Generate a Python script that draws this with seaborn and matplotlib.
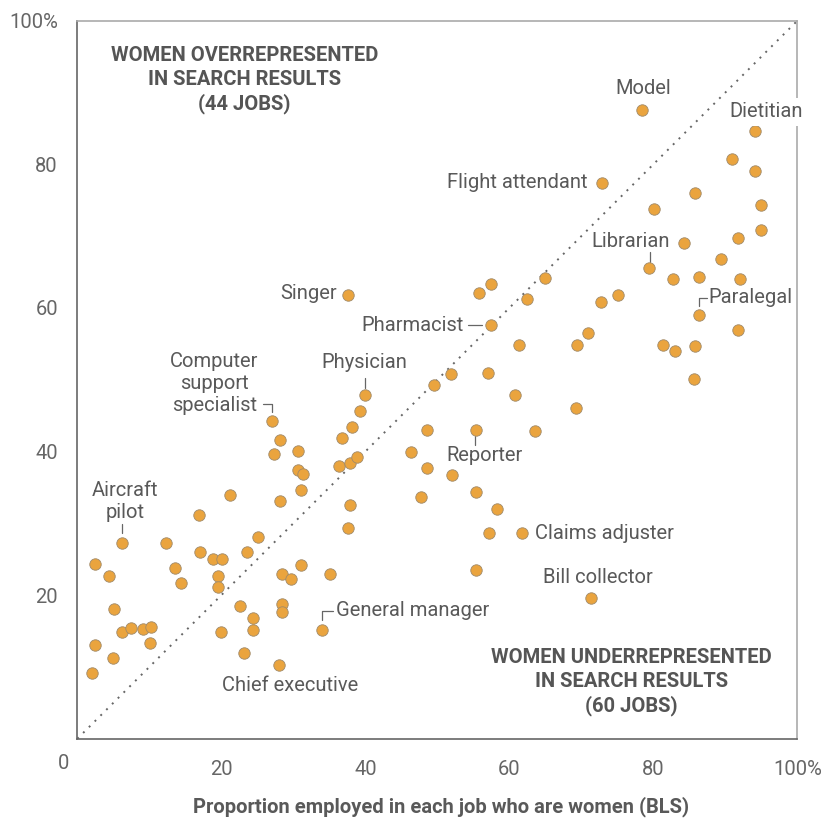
"""Search results vs. BLS share of women, by job."""

import matplotlib

matplotlib.use("Agg")
import matplotlib.pyplot as plt
import pandas as pd
import seaborn as sns

# share of women employed in the job (BLS), percent
bls_share = [
    78.4, 94.1, 90.9, 94.1, 72.9, 85.8, 80.1, 95.0, 95.0, 84.2,
    91.7, 89.4, 79.4, 82.7, 86.3, 92.1, 75.1, 72.7, 86.3, 91.7,
    70.9, 69.4, 81.4, 83.0, 85.8, 85.6, 69.3, 65.0, 57.4, 55.8,
    62.5, 57.4, 61.3, 51.9, 49.5, 57.0, 60.8, 48.6, 55.3, 63.5,
    46.3, 48.6, 52.0, 47.7, 55.3, 58.3, 57.2, 61.7, 55.3, 71.3,
    39.3, 38.2, 36.8, 27.0, 28.1, 27.3, 30.6, 30.6, 31.3, 31.1,
    28.1, 36.3, 37.8, 38.9, 37.8, 37.6, 25.1, 31.1, 28.4, 29.7,
    35.1, 28.4, 28.4, 34.0, 24.4, 24.4, 28.0, 37.6, 40.0, 21.2,
    16.9, 6.2, 12.3, 17.0, 18.9, 20.1, 23.5, 2.4, 4.4, 13.5,
    14.4, 19.6, 19.6, 5.1, 22.6, 6.2, 7.4, 9.1, 10.2, 10.1,
    2.5, 5.0, 2.1, 20.0, 23.1,
]

# share of women in image search results, percent
search_share = [
    87.5, 84.6, 80.8, 79.1, 77.4, 76.0, 73.8, 74.4, 70.9, 69.1,
    69.7, 66.8, 65.6, 64.0, 64.3, 64.0, 61.8, 60.8, 59.0, 56.9,
    56.5, 54.8, 54.8, 54.0, 54.7, 50.1, 46.0, 64.2, 63.4, 62.1,
    61.3, 57.6, 54.9, 50.8, 49.3, 51.0, 47.9, 43.0, 43.0, 42.8,
    39.9, 37.7, 36.7, 33.7, 34.3, 32.0, 28.7, 28.6, 23.5, 19.6,
    45.7, 43.4, 41.9, 44.3, 41.6, 39.7, 40.1, 37.4, 36.9, 34.6,
    33.1, 38.0, 38.4, 39.2, 32.5, 29.4, 28.1, 24.2, 23.0, 22.2,
    23.0, 18.7, 17.6, 15.2, 16.8, 15.2, 10.3, 61.8, 47.9, 33.9,
    31.1, 27.2, 27.2, 26.0, 25.1, 25.1, 26.0, 24.3, 22.7, 23.8,
    21.7, 22.6, 21.2, 18.0, 18.5, 14.9, 15.4, 15.3, 15.6, 13.3,
    13.0, 11.2, 9.2, 14.8, 12.0,
]

x_ticks = [0, 20, 40, 60, 80, 100]
x_tick_labels = ["0", "20", "40", "60", "80", "100%"]
y_ticks = [20, 40, 60, 80, 100]
y_tick_labels = ["20", "40", "60", "80", "100%"]
minor_ticks = [10, 30, 50, 70, 90]

TEXT = "#595959"
AXIS = "#666666"
DOT = "#eaa43e"

sns.set_style("white")
plt.rcParams["font.family"] = ["Roboto", "DejaVu Sans"]

df = pd.DataFrame({"bls": bls_share, "search": search_share})

fig = plt.figure(figsize=(8.21, 8.19), dpi=100)
ax = fig.add_axes([0.0942, 0.098, 0.877, 0.8767])

ax.plot([0, 100], [0, 100], color=AXIS, lw=1.4, ls=(0, (1, 3.2)), zorder=1)
sns.scatterplot(
    data=df, x="bls", y="search", ax=ax, s=68, color=DOT,
    edgecolor="#a08a6a", linewidth=0.6, zorder=3, legend=False,
)

ax.set_xlim(0, 100)
ax.set_ylim(0, 100)
ax.set_xticks(x_ticks)
ax.set_xticklabels(x_tick_labels)
ax.set_xticks(minor_ticks, minor=True)
ax.set_yticks(y_ticks)
ax.set_yticklabels(y_tick_labels)
ax.set_yticks(minor_ticks, minor=True)
ax.tick_params(which="both", direction="out", length=9, width=0.9, color=AXIS,
               labelsize=14.5, labelcolor=AXIS)
ax.tick_params(axis="x", pad=6)
ax.tick_params(axis="y", pad=5)
for t in (ax.xaxis.get_major_ticks()[0], ax.xaxis.get_major_ticks()[-1]):
    t.tick1line.set_visible(False)
ax.xaxis.get_majorticklabels()[0].set_visible(False)
ax.annotate("0", xy=(0, 0), xycoords="axes fraction", xytext=(-14, -25),
            textcoords="offset pixels", ha="center", va="center",
            fontsize=14.5, color=AXIS)

for side in ("left", "bottom"):
    ax.spines[side].set_color(AXIS)
    ax.spines[side].set_linewidth(1.2)
for side in ("top", "right"):
    ax.spines[side].set_color("#aaaaaa")
    ax.spines[side].set_linewidth(1.2)

ax.set_xlabel("Proportion employed in each job who are women (BLS)",
              fontsize=14.5, fontweight="bold", color=TEXT)
ax.xaxis.label.set_va("center")
ax.xaxis.set_label_coords(0.505, -0.095)
ax.set_ylabel("")

lab = dict(fontsize=14.5, color=TEXT, va="center", zorder=4)
ax.text(78.6, 90.6, "Model", ha="center", **lab)
ax.text(90.6, 87.3, "Dietitian", ha="left", clip_on=False,
        bbox=dict(facecolor="white", edgecolor="none", pad=3), **lab)
ax.text(70.8, 77.5, "Flight attendant", ha="right", **lab)
ax.text(76.9, 69.3, "Librarian", ha="center", **lab)
ax.text(87.6, 61.4, "Paralegal", ha="left", **lab)
ax.text(53.7, 57.6, "Pharmacist", ha="right", **lab)
ax.text(36.1, 62.0, "Singer", ha="right", **lab)
ax.text(39.9, 52.4, "Physician", ha="center", **lab)
ax.text(19.0, 49.5, "Computer\nsupport\nspecialist", ha="center",
        linespacing=1.2, **lab)
ax.text(6.6, 33.0, "Aircraft\npilot", ha="center", linespacing=1.2, **lab)
ax.text(35.9, 17.8, "General manager", ha="left", **lab)
ax.text(29.5, 7.4, "Chief executive", ha="center", **lab)
ax.text(56.6, 39.5, "Reporter", ha="center", **lab)
ax.text(63.6, 28.6, "Claims adjuster", ha="left", **lab)
ax.text(72.3, 22.4, "Bill collector", ha="center", **lab)

# leader lines
leaders = [
    ([79.5, 79.5], [67.8, 66.4]),
    ([87.4, 86.3, 86.3], [61.4, 61.4, 60.3]),
    ([54.3, 56.2], [57.6, 57.6]),
    ([40.0, 40.0], [50.2, 48.9]),
    ([25.8, 27.1, 27.1], [46.6, 46.6, 45.5]),
    ([6.2, 6.2], [29.9, 28.6]),
    ([35.5, 34.0, 34.0], [17.8, 17.8, 16.5]),
    ([55.2, 55.2], [42.2, 40.9]),
]
for lx, ly in leaders:
    ax.plot(lx, ly, color=AXIS, lw=0.9, zorder=2)

quad = dict(fontsize=14.5, fontweight="bold", color="#555555", ha="center",
            va="center", linespacing=1.3)
ax.text(23.2, 91.7, "WOMEN OVERREPRESENTED\nIN SEARCH RESULTS\n(44 JOBS)", **quad)
ax.text(77.0, 7.85, "WOMEN UNDERREPRESENTED\nIN SEARCH RESULTS\n(60 JOBS)", **quad)

fig.savefig("out.png", dpi=100)
